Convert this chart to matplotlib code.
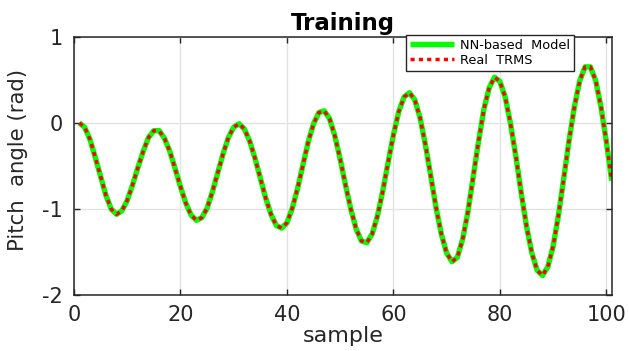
import matplotlib
matplotlib.use("Agg")
from matplotlib import pyplot as plt

# samples 1..101, pitch angle in rad
sample = list(range(1, 102))
real_trms = [
    0.00, -0.05, -0.19, -0.40, -0.62, -0.84, -1.00, -1.06, -1.02, -0.90,
    -0.72, -0.52, -0.33, -0.17, -0.09, -0.09, -0.18, -0.33, -0.53, -0.74,
    -0.93, -1.07, -1.13, -1.10, -0.99, -0.80, -0.58, -0.36, -0.17, -0.05,
    -0.01, -0.07, -0.21, -0.41, -0.64, -0.87, -1.06, -1.19, -1.22, -1.16,
    -0.99, -0.76, -0.49, -0.22, -0.01, 0.12, 0.14, 0.05, -0.15, -0.42,
    -0.72, -1.00, -1.23, -1.37, -1.39, -1.29, -1.08, -0.79, -0.46, -0.14,
    0.13, 0.30, 0.35, 0.27, 0.06, -0.25, -0.61, -0.98, -1.29, -1.51,
    -1.61, -1.56, -1.35, -1.03, -0.62, -0.21, 0.16, 0.41, 0.53, 0.48,
    0.30, -0.01, -0.39, -0.81, -1.20, -1.51, -1.71, -1.77, -1.67, -1.43,
    -1.07, -0.64, -0.20, 0.19, 0.49, 0.65, 0.65, 0.49, 0.18, -0.22,
    -0.67,
]
# the model follows the measurement within the line width
nn_model = list(real_trms)

xticks = [0, 20, 40, 60, 80, 100]
yticks = [-2, -1, 0, 1]

plt.rcParams["axes.unicode_minus"] = False

fig = plt.figure(figsize=(6.29, 3.51), dpi=100)
ax = fig.add_axes([0.1176, 0.1587, 0.8549, 0.7367])

ax.plot(sample, nn_model, color="#00ff00", lw=3.9, solid_capstyle="butt",
        label="NN-based  Model")
ax.plot(sample, real_trms, color="#ff0000", lw=2.5, linestyle=(0, (1.2, 1.2)),
        dash_capstyle="butt", label="Real  TRMS")

ax.set_xlim(0, 101)
ax.set_ylim(-2, 1)
ax.set_xticks(xticks)
ax.set_yticks(yticks)
ax.grid(True, color="#e3e3e3", lw=1)
ax.set_axisbelow(True)

ax.tick_params(direction="in", length=4, width=1, top=True, right=True,
               labelsize=15, colors="#262626")
ax.tick_params(axis="x", pad=7)
ax.tick_params(axis="y", pad=8)
for s in ax.spines.values():
    s.set_color("#262626")
    s.set_linewidth(1.1)

ax.set_title("Training", fontsize=16.5, fontweight="bold", pad=5)
ax.set_xlabel("sample", fontsize=16, color="#262626", labelpad=1)
ax.set_ylabel("Pitch  angle (rad)", fontsize=15.3, color="#262626")
ax.yaxis.set_label_coords(-0.085, 0.525)

leg = ax.legend(loc="upper right", bbox_to_anchor=(0.93, 1.007),
                borderaxespad=0, fontsize=9.3, handlelength=3.4,
                handletextpad=0.5, labelspacing=0.15, borderpad=0.3,
                fancybox=False, framealpha=1, edgecolor="#262626")
leg.get_frame().set_linewidth(1)

fig.savefig("out.png", dpi=100)
